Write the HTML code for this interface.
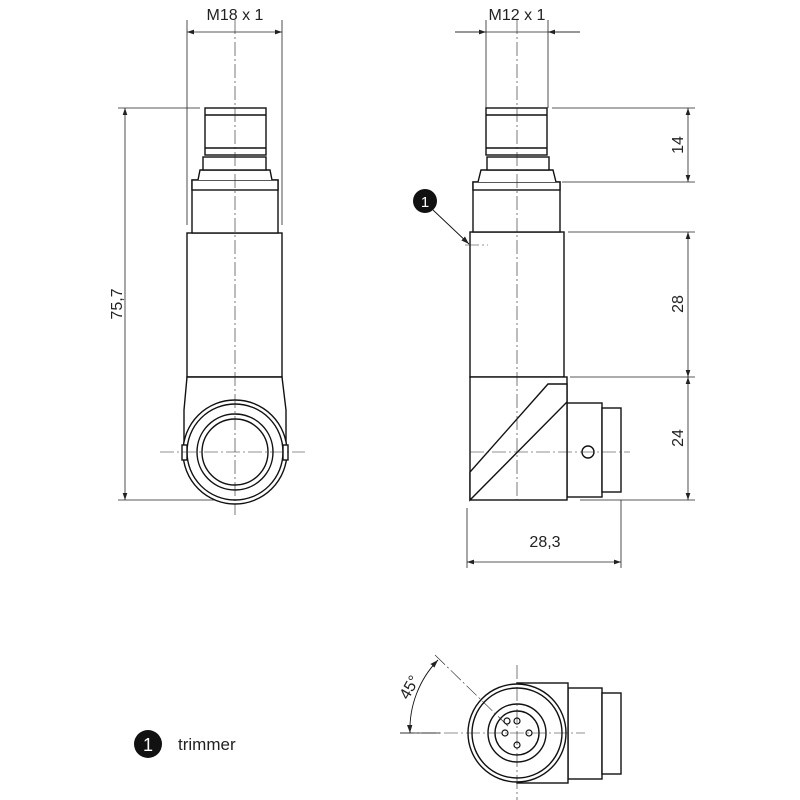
<!DOCTYPE html>
<html><head><meta charset="utf-8"><style>body{margin:0;background:#fff}svg{display:block}text{font-family:"Liberation Sans",sans-serif;fill:#222}</style></head><body>
<svg width="800" height="800" viewBox="0 0 800 800" xmlns="http://www.w3.org/2000/svg">
<defs><marker id="a" markerWidth="10" markerHeight="8" refX="9" refY="4" orient="auto-start-reverse"><path d="M0,1 L9,4 L0,7z" fill="#222"/></marker></defs>
<g stroke="#222" fill="none" stroke-width="0.8">
<line x1="187" y1="20" x2="187" y2="225"/><line x1="282" y1="20" x2="282" y2="225"/>
<line x1="187" y1="32" x2="282" y2="32" marker-start="url(#a)" marker-end="url(#a)"/>
<line x1="118" y1="108" x2="200" y2="108"/><line x1="118" y1="500" x2="218" y2="500"/>
<line x1="125" y1="108" x2="125" y2="500" marker-start="url(#a)" marker-end="url(#a)"/>
<line x1="486" y1="20" x2="486" y2="108"/><line x1="548" y1="20" x2="548" y2="108"/>
<line x1="455" y1="32" x2="580" y2="32"/>
<line x1="486" y1="32" x2="455" y2="32" marker-start="url(#a)"/>
<line x1="548" y1="32" x2="580" y2="32" marker-start="url(#a)"/>
<line x1="552" y1="108" x2="695" y2="108"/><line x1="562" y1="182" x2="695" y2="182"/>
<line x1="568" y1="232" x2="695" y2="232"/><line x1="570" y1="377" x2="695" y2="377"/>
<line x1="580" y1="500" x2="695" y2="500"/>
<line x1="688" y1="108" x2="688" y2="182" marker-start="url(#a)" marker-end="url(#a)"/>
<line x1="688" y1="232" x2="688" y2="377" marker-start="url(#a)" marker-end="url(#a)"/>
<line x1="688" y1="377" x2="688" y2="500" marker-start="url(#a)" marker-end="url(#a)"/>
<line x1="467" y1="508" x2="467" y2="568"/><line x1="621" y1="500" x2="621" y2="568"/>
<line x1="467" y1="562" x2="621" y2="562" marker-start="url(#a)" marker-end="url(#a)"/>
</g>
<g stroke="#111" fill="#fff" stroke-width="1.4">
<rect x="187" y="233" width="95" height="144"/>
<rect x="192" y="180" width="86" height="53"/>
<rect x="192" y="180" width="86" height="10"/>
<path d="M198,180 L200,170 L270,170 L272,180"/>
<rect x="203" y="157" width="63" height="13"/>
<rect x="205" y="108" width="61" height="47"/>
<line x1="205" y1="115" x2="266" y2="115"/><line x1="205" y1="148" x2="266" y2="148"/>
<path d="M187,377 L282,377 L286,410 L286,452 A52,52 0 0 1 184,452 L184,410 Z"/>
<circle cx="235" cy="452" r="52"/><circle cx="235" cy="452" r="48"/>
<circle cx="235" cy="452" r="38"/><circle cx="235" cy="452" r="33"/>
<rect x="182" y="445" width="5" height="15"/><rect x="283" y="445" width="5" height="15"/>
<rect x="470" y="232" width="94" height="145"/>
<rect x="473" y="182" width="87" height="50"/>
<rect x="473" y="182" width="87" height="8"/>
<path d="M478,182 L481,170 L553,170 L556,182"/>
<rect x="487" y="157" width="62" height="13"/>
<rect x="486" y="108" width="61" height="47"/>
<line x1="486" y1="115" x2="547" y2="115"/><line x1="486" y1="148" x2="547" y2="148"/>
<rect x="567" y="403" width="35" height="94"/>
<rect x="602" y="408" width="19" height="84"/>
<rect x="470" y="377" width="97" height="123"/>
<path d="M470,500 L470,472 L548,384 L567,384 L567,402 Z" fill="#fff"/>
<circle cx="588" cy="452" r="6"/>
<rect x="568" y="688" width="34" height="91"/>
<rect x="602" y="693" width="19" height="81"/>
<rect x="517" y="683" width="51" height="100"/>
<circle cx="517" cy="733" r="49"/><circle cx="517" cy="733" r="45"/>
<circle cx="517" cy="733" r="29"/><circle cx="517" cy="733" r="22"/>
</g>
<g stroke="#222" fill="none" stroke-dasharray="14,3,2,3" stroke-width="0.6">
<line x1="235" y1="20" x2="235" y2="515"/><line x1="517" y1="20" x2="517" y2="500"/>
<line x1="160" y1="452" x2="305" y2="452"/><line x1="470" y1="452" x2="630" y2="452"/>
<line x1="517" y1="665" x2="517" y2="800"/><line x1="400" y1="733" x2="585" y2="733"/>
<line x1="435" y1="655" x2="510" y2="728"/><line x1="465" y1="245" x2="488" y2="245"/>
</g>
<g stroke="#111" fill="none" stroke-width="1.2">
<circle cx="507" cy="721" r="3"/><circle cx="517" cy="721" r="3"/><circle cx="505" cy="733" r="3"/><circle cx="529" cy="733" r="3"/><circle cx="517" cy="745" r="3"/>
<path d="M410,733 A100,100 0 0 1 438,660" stroke-width="0.9" marker-start="url(#a)" marker-end="url(#a)"/>
<line x1="400" y1="733" x2="440" y2="733" stroke-width="0.8"/>
<line x1="433" y1="210" x2="469" y2="244" stroke-width="0.9" marker-end="url(#a)"/>
</g>
<circle cx="425" cy="201" r="12" fill="#111"/>
<text x="425" y="207" font-size="15" text-anchor="middle" style="fill:#fff">1</text>
<circle cx="148" cy="744" r="14" fill="#111"/>
<text x="148" y="751" font-size="18" text-anchor="middle" style="fill:#fff">1</text>
<text x="178" y="750" font-size="17">trimmer</text>
<text x="235" y="20" font-size="16" text-anchor="middle">M18 x 1</text>
<text x="517" y="20" font-size="16" text-anchor="middle">M12 x 1</text>
<text x="545" y="547" font-size="16" text-anchor="middle">28,3</text>
<text transform="translate(122,304) rotate(-90)" font-size="16" text-anchor="middle">75,7</text>
<text transform="translate(683,145) rotate(-90)" font-size="16" text-anchor="middle">14</text>
<text transform="translate(683,304) rotate(-90)" font-size="16" text-anchor="middle">28</text>
<text transform="translate(683,438) rotate(-90)" font-size="16" text-anchor="middle">24</text>
<text transform="translate(414,690) rotate(-60)" font-size="16" text-anchor="middle">45°</text>
</svg>
</body></html>
